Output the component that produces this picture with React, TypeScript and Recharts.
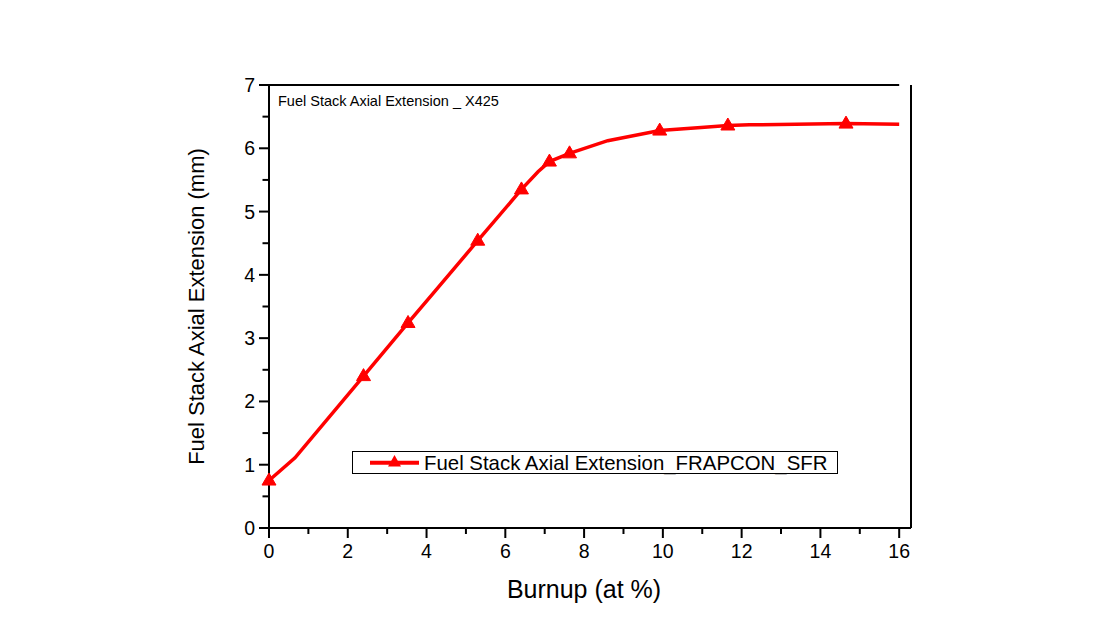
import React from 'react';
import { LineChart, Line, XAxis, YAxis, ReferenceLine, Legend, Label } from 'recharts';

const burnup = [0, 0.66, 2.4, 3.53, 4.21, 5.3, 6.41, 6.83, 7.12, 7.63, 8.6, 9.92, 10.97, 11.65, 12.2, 14.65, 16.0];
const extension = [0.75, 1.11, 2.4, 3.24, 3.74, 4.54, 5.35, 5.63, 5.79, 5.92, 6.12, 6.28, 6.33, 6.36, 6.37, 6.39, 6.38];
const hasMarker = [true, false, true, true, false, true, true, false, true, true, false, true, false, true, false, true, false];

const xTicks = [0, 1, 2, 3, 4, 5, 6, 7, 8, 9, 10, 11, 12, 13, 14, 15, 16];
const yTicks = [0, 0.5, 1, 1.5, 2, 2.5, 3, 3.5, 4, 4.5, 5, 5.5, 6, 6.5, 7];
const rightTicks = [0, 0.5, 1, 1.5, 2, 2.5, 3, 3.5, 4, 4.5, 5, 5.5, 6, 6.5];

const seriesName = 'Fuel Stack Axial Extension_FRAPCON_SFR';
const annotation = 'Fuel Stack Axial Extension _ X425';
const xTitle = 'Burnup (at %)';
const yTitle = 'Fuel Stack Axial Extension (mm)';

const data = burnup.map((b, i) => ({ burnup: b, ext: extension[i], marker: hasMarker[i] }));

const FONT = 'Arial, "Liberation Sans", sans-serif';
const RED = '#ff0000';

const isMajor = (v: number) => Math.abs(v - Math.round(v)) < 1e-6;

const LeftTick = (props: any) => {
  const { x, y, payload } = props;
  const v = payload.value;
  const major = isMajor(v);
  return (
    <g>
      <line x1={x} y1={y} x2={x - (major ? 10 : 6.5)} y2={y} stroke="#000" strokeWidth={2} />
      {major && (
        <text x={x - 14} y={y} textAnchor="end" dominantBaseline="central" fontSize={19.5} fontFamily={FONT} fill="#000">
          {v}
        </text>
      )}
    </g>
  );
};

const BottomTick = (props: any) => {
  const { x, y, payload } = props;
  const v = payload.value;
  const major = v % 2 === 0;
  return (
    <g>
      <line x1={x} y1={y} x2={x} y2={y + (major ? 10 : 6)} stroke="#000" strokeWidth={2} />
      {major && (
        <text x={x} y={y + 30} textAnchor="middle" fontSize={19.5} fontFamily={FONT} fill="#000">
          {v}
        </text>
      )}
    </g>
  );
};

const RightTick = (props: any) => {
  const { x, y, payload } = props;
  const major = isMajor(payload.value);
  return <line x1={x} y1={y} x2={x - (major ? 10.5 : 6)} y2={y} stroke="#000" strokeWidth={2} />;
};

const TriangleDot = (props: any) => {
  const { cx, cy, payload, index } = props;
  if (!payload || !payload.marker || cx == null || cy == null) return <g key={`d${index}`} />;
  return (
    <path
      key={`d${index}`}
      d={`M${cx},${cy - 7.5} L${cx + 7},${cy + 4.5} L${cx - 7},${cy + 4.5} Z`}
      fill={RED}
      stroke={RED}
      strokeWidth={1}
    />
  );
};

const LegendBox = () => (
  <svg width={487} height={24} style={{ display: 'block' }}>
    <rect x={0.5} y={0.5} width={485} height={22} fill="#fff" stroke="#000" strokeWidth={1} />
    <line x1={18} y1={11.8} x2={67} y2={11.8} stroke={RED} strokeWidth={4} />
    <path d="M42.5,4 L49,15.5 L36,15.5 Z" fill={RED} />
    <text x={72} y={18.8} fontSize={20.4} fontFamily={FONT} fill="#000">
      {seriesName}
    </text>
  </svg>
);

export default function App() {
  return (
    <div style={{ position: 'absolute', left: 0, top: 0, width: 1115, height: 623, background: '#fff' }}>
      <LineChart
        width={1115}
        height={623}
        data={data}
        margin={{ top: 85, right: 194, left: 0, bottom: 35 }}
      >
        <XAxis
          dataKey="burnup"
          type="number"
          domain={[0, 16.3]}
          ticks={xTicks}
          interval={0}
          tickSize={0}
          tickMargin={0}
          tickLine={false}
          axisLine={{ stroke: '#000', strokeWidth: 2 }}
          tick={<BottomTick />}
          height={60}
        >
          <Label
            content={(p: any) => {
              const vb = p.viewBox || { x: 269, y: 528 };
              return (
                <text x={vb.x + 315} y={vb.y + 70} textAnchor="middle" fontSize={25} fontFamily={FONT} fill="#000">
                  {xTitle}
                </text>
              );
            }}
          />
        </XAxis>
        <YAxis
          yAxisId="left"
          type="number"
          domain={[0, 7]}
          ticks={yTicks}
          interval={0}
          width={269}
          tickSize={0}
          tickMargin={0}
          tickLine={false}
          axisLine={{ stroke: '#000', strokeWidth: 2 }}
          tick={<LeftTick />}
        >
          <Label
            content={(p: any) => {
              const vb = p.viewBox || { x: 0, y: 85, width: 269, height: 443 };
              const cx = 196;
              const cy = vb.y + vb.height / 2;
              return (
                <text
                  x={cx}
                  y={cy}
                  transform={`rotate(-90, ${cx}, ${cy})`}
                  textAnchor="middle"
                  dominantBaseline="central"
                  fontSize={22}
                  fontFamily={FONT}
                  fill="#000"
                >
                  {yTitle}
                </text>
              );
            }}
          />
        </YAxis>
        <YAxis
          yAxisId="right"
          orientation="right"
          type="number"
          domain={[0, 6.8]}
          ticks={rightTicks}
          interval={0}
          width={10}
          tickSize={0}
          tickMargin={0}
          tickLine={false}
          axisLine={{ stroke: '#000', strokeWidth: 2 }}
          tick={<RightTick />}
        />
        <ReferenceLine
          yAxisId="left"
          segment={[
            { x: 0, y: 7 },
            { x: 16, y: 7 },
          ]}
          stroke="#000"
          strokeWidth={2}
          ifOverflow="visible"
          label={(p: any) => {
            const vb = p.viewBox || { x: 269, y: 85 };
            return (
              <text x={vb.x + 9} y={vb.y + 21} fontSize={14.5} fontFamily={FONT} fill="#000">
                {annotation}
              </text>
            );
          }}
        />
        <Legend
          layout="horizontal"
          verticalAlign="middle"
          align="center"
          wrapperStyle={{ position: 'absolute', left: 352, top: 451, width: 487, height: 24 }}
          content={() => <LegendBox />}
        />
        <Line
          yAxisId="left"
          type="linear"
          dataKey="ext"
          name={seriesName}
          stroke={RED}
          strokeWidth={3.5}
          dot={<TriangleDot />}
          activeDot={false}
          isAnimationActive={false}
        />
      </LineChart>
    </div>
  );
}
